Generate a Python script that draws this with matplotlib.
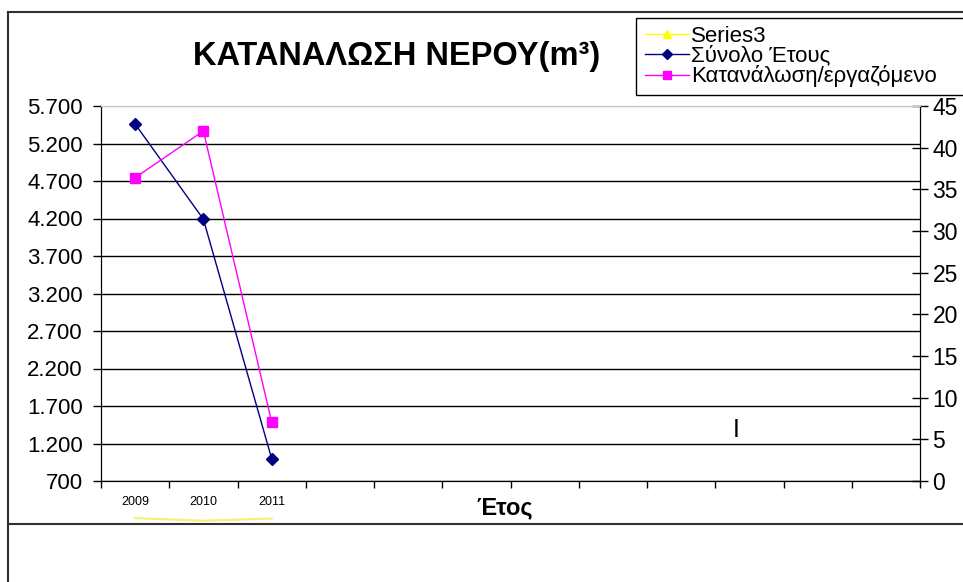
import matplotlib
matplotlib.use("Agg")
import matplotlib.pyplot as plt
from matplotlib.lines import Line2D
from matplotlib.patches import Rectangle
import numpy as np

plt.rcParams['font.family'] = ['Liberation Sans', 'DejaVu Sans']

# ---- data ----
years = ['2009', '2010', '2011']
n_slots = 12
total_year = [5460, 4190, 1000]          # Σύνολο Έτους (left axis)
per_employee = [36.4, 42.0, 7.1]         # Κατανάλωση/εργαζόμενο (right axis)
series3 = [205, 170, 200]                # Series3 (left axis, below range)
left_ticks = list(range(700, 5701, 500))
right_ticks = list(range(0, 46, 5))

title = 'ΚΑΤΑΝΑΛΩΣΗ ΝΕΡΟΥ(m³)'
xlabel = 'Έτος'
labels = ['Series3', 'Σύνολο Έτους', 'Κατανάλωση/εργαζόμενο']

W, H = 963, 582
fig = plt.figure(figsize=(W / 100, H / 100), dpi=100)
fig.patch.set_facecolor('white')

def fx(px):
    return px / W

def fy(py):
    return 1 - py / H

L, R, T, B = 101, 920, 106, 481
ax = fig.add_axes([fx(L), fy(B), fx(R) - fx(L), fy(T) - fy(B)])
ax2 = ax.twinx()

xpos = np.arange(len(years))

ax.plot(xpos, series3, color='#f2f27a', lw=1.6, clip_on=False, zorder=5)
ax.plot(xpos, total_year, color='#000080', lw=1, marker='D', markersize=6.5,
        markerfacecolor='#000080', markeredgecolor='#000080', zorder=3)
ax2.plot(xpos, per_employee, color='#ff00ff', lw=1, marker='s', markersize=7,
         markerfacecolor='#ff00ff', markeredgecolor='#ff00ff', zorder=3)

ax.set_xlim(-0.5, n_slots - 0.5)
ax.set_ylim(left_ticks[0], left_ticks[-1])
ax2.set_ylim(right_ticks[0], right_ticks[-1])

ax.set_yticks(left_ticks)
ax.set_yticklabels([f"{v:,}".replace(',', '.') for v in left_ticks], fontsize=16)
ax2.set_yticks(right_ticks)
ax2.set_yticklabels([str(v) for v in right_ticks], fontsize=16.5)

ax.set_xticks(np.arange(-0.5, n_slots, 1))
ax.set_xticklabels([])
ax.set_xticks(xpos, minor=True)
ax.set_xticklabels(years, minor=True, fontsize=9)
ax.tick_params(axis='x', which='major', direction='out', length=5, width=1, color='black')
ax.tick_params(axis='x', which='minor', length=0, pad=11)
ax.tick_params(axis='y', direction='out', length=6, width=1, pad=7, color='black')
ax2.tick_params(axis='y', direction='inout', length=12, width=1, pad=3, color='black')

ax.yaxis.grid(True, color='black', lw=1)
ax.set_axisbelow(True)
ax.get_ygridlines()[-1].set_color('#c8c8c8')

for a in (ax, ax2):
    a.spines['top'].set_color('#c8c8c8')
    a.spines['left'].set_color('black')
    a.spines['right'].set_color('black')
    a.spines['bottom'].set_color('black')
    a.set_facecolor('none')

fig.text(fx(397), fy(57), title, fontsize=23.5, fontweight='bold', ha='center', va='center')
fig.text(fx(505), fy(508), xlabel, fontsize=17, fontweight='bold', ha='center', va='center')
fig.text(fx(736), fy(430), 'I', fontsize=18, ha='center', va='center', fontweight='light')

# outer chart frame
fig.add_artist(Line2D([fx(8), 1.0], [fy(12), fy(12)], transform=fig.transFigure,
                      color='#303030', lw=1.5))
fig.add_artist(Line2D([fx(8), fx(8)], [fy(12), 0.0], transform=fig.transFigure,
                      color='#303030', lw=1.5))
fig.add_artist(Line2D([fx(8), 1.0], [fy(524), fy(524)], transform=fig.transFigure,
                      color='#303030', lw=1.5))

# legend box (open past the right edge of the picture)
fig.add_artist(Rectangle((fx(636), fy(95)), fx(400), fy(18) - fy(95),
                         transform=fig.transFigure, facecolor='white',
                         edgecolor='black', lw=1, zorder=4))

handles = [
    Line2D([], [], color='#ffff00', lw=1, marker='^', markersize=6),
    Line2D([], [], color='#000080', lw=1, marker='D', markersize=5),
    Line2D([], [], color='#ff00ff', lw=1, marker='s', markersize=6),
]
leg = fig.legend(handles, labels, loc='upper left',
                 bbox_to_anchor=(fx(638), fy(19)),
                 bbox_transform=fig.transFigure,
                 fontsize=16, frameon=False,
                 handlelength=2.0, handletextpad=0.1, labelspacing=-0.05,
                 borderpad=0.3, borderaxespad=0)
leg.set_zorder(5)

fig.savefig('out.png', dpi=100)
